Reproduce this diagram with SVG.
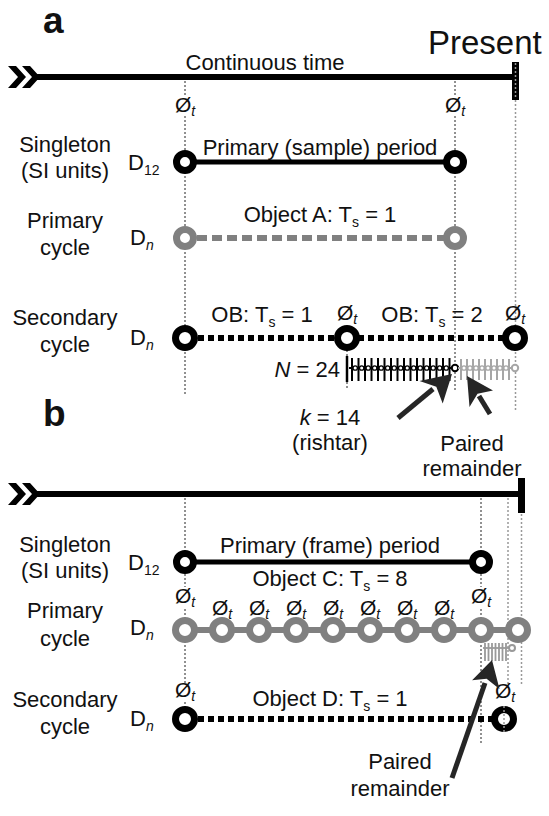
<svg xmlns="http://www.w3.org/2000/svg" width="549" height="816" viewBox="0 0 549 816">
  <style>
    text { font-family: "Liberation Sans", Arial, sans-serif; fill: #111; }
    .lbl { font-size: 22px; text-anchor: middle; }
    .pl { font-size: 37px; font-weight: bold; }
    .sub { font-size: 14px; }
    .phi { font-size: 21px; }
    .guide { stroke: #222; stroke-width: 1; stroke-dasharray: 2 2; fill: none; }
    .guideg { stroke: #999; stroke-width: 1.5; stroke-dasharray: 2 2; fill: none; }
    .ringk { fill: #fff; stroke: #000; stroke-width: 7; }
    .ringg { fill: #fff; stroke: #808080; stroke-width: 7; }
    .arrow { fill: #262626; stroke: none; }
    .shaft { stroke: #262626; stroke-width: 5; fill: none; }
  </style>
  <defs>
    <g id="chev">
      <polygon points="0,0 8,0 18,11 8,22 0,22 10,11" fill="#000"/>
      <polygon points="14,0 22,0 32,11 22,22 14,22 24,11" fill="#000"/>
    </g>
    <g id="phi">
      <text class="phi" text-anchor="middle">Ø<tspan class="sub" font-style="italic" dy="4">t</tspan></text>
    </g>
  </defs>

  <!-- ===== Panel a ===== -->
  <g id="panel-a-label"><text class="pl" x="43" y="33">a</text></g>
  <g id="present-a"><text x="428" y="54" font-size="33">Present</text></g>

  <g id="timeline-a">
    <use href="#chev" x="8" y="66"/>
    <line x1="36" y1="77" x2="515" y2="77" stroke="#000" stroke-width="6"/>
    <rect x="512" y="62" width="7" height="38" fill="#000"/>
    <line x1="515.5" y1="63" x2="515.5" y2="99" stroke="#999" stroke-width="1.5" stroke-dasharray="2 2"/>
    <text class="lbl" x="265" y="70">Continuous time</text>
  </g>

  <!-- guide lines, panel a -->
  <g id="guides-a">
    <line class="guide" x1="185" y1="81" x2="185" y2="97"/>
    <line class="guide" x1="185" y1="116" x2="185" y2="396"/>
    <line class="guide" x1="455" y1="81" x2="455" y2="97"/>
    <line class="guide" x1="455" y1="116" x2="455" y2="390"/>
    <line class="guide" x1="347" y1="326" x2="347" y2="390"/>
    <line class="guideg" x1="515.5" y1="100" x2="515.5" y2="412"/>
    <use href="#phi" x="185" y="112"/>
    <use href="#phi" x="455" y="112"/>
  </g>

  <g id="singleton-a">
    <text class="lbl" x="65" y="152">Singleton</text>
    <text class="lbl" x="65" y="178">(SI units)</text>
    <text x="128" y="170" font-size="22">D<tspan class="sub" dy="5">12</tspan></text>
    <text class="lbl" x="320" y="155">Primary (sample) period</text>
    <line x1="185" y1="162" x2="455" y2="162" stroke="#000" stroke-width="5"/>
    <circle class="ringk" cx="185" cy="162" r="8.5"/>
    <circle class="ringk" cx="455" cy="162" r="8.5"/>
  </g>

  <g id="primary-a">
    <text class="lbl" x="65" y="228">Primary</text>
    <text class="lbl" x="65" y="255">cycle</text>
    <text x="130" y="245" font-size="22">D<tspan class="sub" font-style="italic" dy="5">n</tspan></text>
    <text class="lbl" x="320" y="222">Object A: T<tspan class="sub" dy="5">s</tspan><tspan dy="-5"> = 1</tspan></text>
    <line x1="197" y1="238" x2="445" y2="238" stroke="#808080" stroke-width="6" stroke-dasharray="10 5"/>
    <circle class="ringg" cx="185" cy="238" r="8.5"/>
    <circle class="ringg" cx="455" cy="238" r="8.5"/>
  </g>

  <g id="secondary-a">
    <text class="lbl" x="65" y="325">Secondary</text>
    <text class="lbl" x="65" y="352">cycle</text>
    <text x="130" y="345" font-size="22">D<tspan class="sub" font-style="italic" dy="5">n</tspan></text>
    <text class="lbl" x="262" y="322">OB: T<tspan class="sub" dy="5">s</tspan><tspan dy="-5"> = 1</tspan></text>
    <text class="lbl" x="432" y="322">OB: T<tspan class="sub" dy="5">s</tspan><tspan dy="-5"> = 2</tspan></text>
    <use href="#phi" x="347" y="320"/>
    <use href="#phi" x="515" y="320"/>
    <line x1="198" y1="338" x2="505" y2="338" stroke="#000" stroke-width="6" stroke-dasharray="6 4"/>
    <circle class="ringk" cx="185" cy="338" r="9.5"/>
    <circle class="ringk" cx="347" cy="338" r="9.5"/>
    <circle class="ringk" cx="515" cy="338" r="9.5"/>
  </g>

  <!-- sub-cycle chain, N = 24 -->
  <g id="chain-a">
    <text x="340" y="377" font-size="22" text-anchor="end"><tspan font-style="italic">N</tspan> = 24</text>
    <line x1="347" y1="356" x2="347" y2="382" stroke="#000" stroke-width="2.5"/>
    <g stroke="#000" stroke-width="2">
      <line x1="349" y1="368" x2="455" y2="368"/>
      <path d="M352,358V381M358.5,358V381M365,358V381M371.5,358V381M378,358V381M384.5,358V381M391,358V381M397.5,358V381M404,358V381M410.5,358V381M417,358V381M423.5,358V381M430,358V381M436.5,358V381M443,358V381M449.5,358V381"/>
    </g>
    <g fill="#fff" stroke="#000" stroke-width="1.3">
      <circle cx="355.2" cy="368" r="2.2"/><circle cx="361.7" cy="368" r="2.2"/><circle cx="368.2" cy="368" r="2.2"/><circle cx="374.7" cy="368" r="2.2"/><circle cx="381.2" cy="368" r="2.2"/><circle cx="387.7" cy="368" r="2.2"/><circle cx="394.2" cy="368" r="2.2"/><circle cx="400.7" cy="368" r="2.2"/><circle cx="407.2" cy="368" r="2.2"/><circle cx="413.7" cy="368" r="2.2"/><circle cx="420.2" cy="368" r="2.2"/><circle cx="426.7" cy="368" r="2.2"/><circle cx="433.2" cy="368" r="2.2"/><circle cx="439.7" cy="368" r="2.2"/><circle cx="446.2" cy="368" r="2.2"/>
      <circle cx="455" cy="368" r="3.2" stroke-width="2"/>
    </g>
    <g stroke="#a6a6a6" stroke-width="2">
      <line x1="458" y1="368" x2="512" y2="368"/>
      <path d="M461,359V380M467,359V380M473,359V380M479,359V380M485,359V380M491,359V380M497,359V380M503,359V380M509,359V380"/>
    </g>
    <g fill="#fff" stroke="#a6a6a6" stroke-width="1.3">
      <circle cx="464" cy="368" r="2.2"/><circle cx="470" cy="368" r="2.2"/><circle cx="476" cy="368" r="2.2"/><circle cx="482" cy="368" r="2.2"/><circle cx="488" cy="368" r="2.2"/><circle cx="494" cy="368" r="2.2"/><circle cx="500" cy="368" r="2.2"/><circle cx="506" cy="368" r="2.2"/>
      <circle cx="515" cy="368" r="3.2" stroke-width="2"/>
    </g>
  </g>

  <g id="connectors-a">
    <line class="shaft" x1="398" y1="418" x2="433" y2="389"/>
    <polygon class="arrow" points="452,374 442.7,403.4 436.3,386.8 419.5,381"/>
    <line class="shaft" x1="490" y1="414" x2="479" y2="396"/>
    <polygon class="arrow" points="467,376 493,390.5 477.5,393.8 469.5,407"/>
  </g>

  <g id="k-label">
    <text class="lbl" x="330" y="425"><tspan font-style="italic">k</tspan> = 14</text>
    <text class="lbl" x="330" y="450">(rishtar)</text>
  </g>
  <g id="remainder-a-label">
    <text class="lbl" x="472" y="451">Paired</text>
    <text class="lbl" x="472" y="476">remainder</text>
  </g>

  <!-- ===== Panel b ===== -->
  <g id="panel-b-label"><text class="pl" x="43" y="426">b</text></g>

  <g id="timeline-b">
    <use href="#chev" x="8" y="483"/>
    <line x1="36" y1="494" x2="522" y2="494" stroke="#000" stroke-width="6"/>
    <rect x="518" y="478" width="7" height="35" fill="#000"/>
  </g>

  <g id="guides-b">
    <line class="guide" x1="185" y1="498" x2="185" y2="587"/>
    <line class="guide" x1="185" y1="609" x2="185" y2="684"/>
    <line class="guide" x1="185" y1="702" x2="185" y2="728"/>
    <line class="guide" x1="481" y1="498" x2="481" y2="587"/>
    <line class="guide" x1="481" y1="609" x2="481" y2="744"/>
    <line class="guideg" x1="508" y1="498" x2="508" y2="684"/>
    <line class="guideg" x1="521.5" y1="514" x2="521.5" y2="684"/>
    <use href="#phi" x="185" y="603"/>
    <use href="#phi" x="481" y="603"/>
  </g>

  <g id="singleton-b">
    <text class="lbl" x="65" y="552">Singleton</text>
    <text class="lbl" x="65" y="578">(SI units)</text>
    <text x="128" y="570" font-size="22">D<tspan class="sub" dy="5">12</tspan></text>
    <text class="lbl" x="330" y="553">Primary (frame) period</text>
    <line x1="185" y1="562" x2="481" y2="562" stroke="#000" stroke-width="5"/>
    <circle class="ringk" cx="185" cy="562" r="8.5"/>
    <circle class="ringk" cx="481" cy="562" r="8.5"/>
  </g>

  <g id="primary-b">
    <text class="lbl" x="65" y="618">Primary</text>
    <text class="lbl" x="65" y="646">cycle</text>
    <text x="130" y="635" font-size="22">D<tspan class="sub" font-style="italic" dy="5">n</tspan></text>
    <text class="lbl" x="330" y="586">Object C: T<tspan class="sub" dy="5">s</tspan><tspan dy="-5"> = 8</tspan></text>
    <use href="#phi" x="222" y="615"/>
    <use href="#phi" x="259" y="615"/>
    <use href="#phi" x="296" y="615"/>
    <use href="#phi" x="333" y="615"/>
    <use href="#phi" x="370" y="615"/>
    <use href="#phi" x="407" y="615"/>
    <use href="#phi" x="444" y="615"/>
    <line x1="185" y1="630" x2="518" y2="630" stroke="#808080" stroke-width="6"/>
    <g class="ringg">
      <circle cx="185" cy="630" r="9.5"/><circle cx="222" cy="630" r="9.5"/><circle cx="259" cy="630" r="9.5"/><circle cx="296" cy="630" r="9.5"/><circle cx="333" cy="630" r="9.5"/><circle cx="370" cy="630" r="9.5"/><circle cx="407" cy="630" r="9.5"/><circle cx="444" cy="630" r="9.5"/><circle cx="481" cy="630" r="9.5"/><circle cx="518" cy="630" r="9.5"/>
    </g>
  </g>

  <!-- remainder chain under the ninth cycle -->
  <g id="chain-b">
    <g stroke="#999" stroke-width="1.8">
      <line x1="483" y1="648" x2="510" y2="648"/>
      <path d="M485,643V661M488.5,643V661M492,643V661M495.5,643V661M499,643V661M502.5,643V661M506,643V661"/>
    </g>
    <circle cx="512" cy="648" r="3" fill="#fff" stroke="#999" stroke-width="2"/>
  </g>

  <g id="secondary-b">
    <text class="lbl" x="65" y="707">Secondary</text>
    <text class="lbl" x="65" y="734">cycle</text>
    <text x="130" y="726" font-size="22">D<tspan class="sub" font-style="italic" dy="5">n</tspan></text>
    <text class="lbl" x="330" y="706">Object D: T<tspan class="sub" dy="5">s</tspan><tspan dy="-5"> = 1</tspan></text>
    <use href="#phi" x="185" y="697"/>
    <use href="#phi" x="505" y="698"/>
    <line x1="198" y1="719" x2="492" y2="719" stroke="#000" stroke-width="6" stroke-dasharray="6 4"/>
    <circle class="ringk" cx="185" cy="719" r="9.5"/>
    <circle class="ringk" cx="504" cy="719" r="9.5"/>
    <line class="guideg" x1="504" y1="706" x2="504" y2="732"/>
  </g>

  <g id="connectors-b">
    <line class="shaft" x1="452" y1="778" x2="485" y2="683"/>
    <polygon class="arrow" points="492,660 499.5,689 486.6,678.8 472.1,680.3"/>
  </g>
  <g id="remainder-b-label">
    <text class="lbl" x="400" y="769">Paired</text>
    <text class="lbl" x="400" y="796">remainder</text>
  </g>
</svg>
